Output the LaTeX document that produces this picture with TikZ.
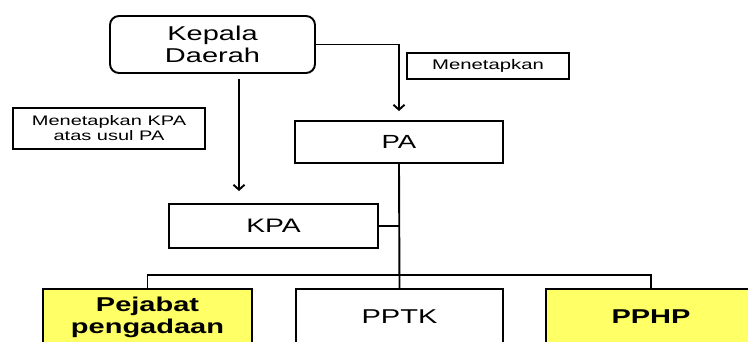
\documentclass[tikz,border=0pt]{standalone}
\usepackage{fontspec}
\setmainfont[FakeStretch=1.45]{Liberation Sans}
\usepackage{tikz}
\usetikzlibrary{positioning,arrows.meta,calc}
\definecolor{pengyellow}{RGB}{255,255,102}

\begin{document}
\begin{tikzpicture}[
    x=1pt, y=-1pt,
    box/.style={
        draw,
        rectangle,
        line width=1.9pt,
        inner sep=0pt,
        align=center
    },
    note/.style={
        box,
        font=\fontsize{14}{15}\selectfont
    },
    arr/.style={->, line width=1.9pt, >={Straight Barb[length=5pt,width=11pt,line width=1.9pt]}},
    link/.style={line width=1.9pt}
]
\useasboundingbox (0,0) rectangle (748,341);

\node[box, rounded corners=9pt, minimum width=205pt, minimum height=57pt,
      font=\fontsize{20}{21.7}\selectfont] (kd) at (212.5,44.5) {Kepala\\Daerah};
\node[note, minimum width=162pt, minimum height=26pt] (menet) at (488,66) {Menetapkan};
\node[note, minimum width=192pt, minimum height=41pt, font=\fontsize{13.8}{15}\selectfont] (mkpa) at (109,128.5) {Menetapkan KPA\\atas usul PA};
\node[box, minimum width=208pt, minimum height=42pt, font=\fontsize{19}{20}\selectfont] (pa) at (399,142) {PA};
\node[box, minimum width=209pt, minimum height=44pt, font=\fontsize{19.5}{20}\selectfont] (kpa) at (273.5,226) {KPA};
\node[box, fill=pengyellow, minimum width=209pt, minimum height=56pt,
      font=\fontsize{20}{22}\selectfont\bfseries] (pej) at (147.5,317) {Pejabat\\pengadaan};
\node[box, minimum width=207pt, minimum height=56pt, font=\fontsize{20}{20}\selectfont] (pptk) at (399.5,317) {PPTK};
\node[box, fill=pengyellow, minimum width=210pt, minimum height=56pt,
      font=\fontsize{20}{20}\selectfont\bfseries] (pphp) at (651,317) {PPHP};
\coordinate (bus) at (399.5,275);

\draw[arr, shorten >=9pt] (kd.east) -| (pa.north);
\draw[arr, shorten >=12pt] ([xshift=26.5pt,yshift=-5pt]kd.south) -- ([xshift=26.5pt]kd.south |- kpa.north);
\draw[link] (pa.south) -- (pptk.north);
\draw[link] (kpa.east) -- (kpa.east -| pa.south);
\draw[link] (pej.north) |- (bus) -| (pphp.north);

\end{tikzpicture}
\end{document}
